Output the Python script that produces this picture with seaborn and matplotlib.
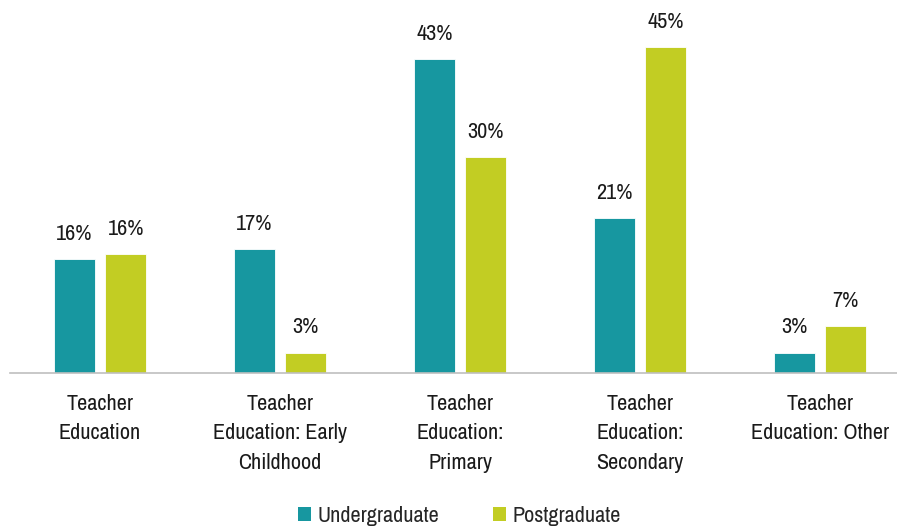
import matplotlib
matplotlib.use("Agg")
import matplotlib.pyplot as plt
from matplotlib import font_manager
from matplotlib.patches import Patch
import seaborn as sns
import pandas as pd

categories = ["Teacher\nEducation", "Teacher\nEducation: Early\nChildhood",
              "Teacher\nEducation:\nPrimary", "Teacher\nEducation:\nSecondary",
              "Teacher\nEducation: Other"]
series_names = ["Undergraduate", "Postgraduate"]
undergraduate = [15.7, 17.1, 43.4, 21.4, 2.8]
postgraduate = [16.4, 2.8, 29.8, 45.0, 6.5]
undergraduate_labels = ["16%", "17%", "43%", "21%", "3%"]
postgraduate_labels = ["16%", "3%", "30%", "45%", "7%"]
colors = ["#1797A0", "#C2CD23"]

sns.set_theme(style="white")
available = {f.name for f in font_manager.fontManager.ttflist}
fam = None
for cand in ["Archivo Narrow", "Liberation Sans Narrow", "Roboto Condensed"]:
    if cand in available:
        fam = cand
        break
if fam is None:
    fam = "Liberation Sans"
plt.rcParams["font.family"] = [fam, "DejaVu Sans"]

df = pd.DataFrame({
    "category": categories * 2,
    "series": [series_names[0]] * 5 + [series_names[1]] * 5,
    "value": undergraduate + postgraduate,
})

fig = plt.figure(figsize=(8.97, 5.30), dpi=100)
ax = fig.add_axes([10 / 897, (530 - 373) / 530, 1 - 10 / 897, 373 / 530])
sns.barplot(data=df, x="category", y="value", hue="series", palette=colors,
            width=0.572, gap=0.2, ax=ax, legend=False, errorbar=None,
            edgecolor="white", linewidth=0.6, saturation=1)

ax.set_xlim(-0.5, (897 - 100) / 180)
ax.set_ylim(0, 373 / 7.24)
ax.set_xlabel("")
ax.set_ylabel("")
ax.set_yticks([])
for s in ["top", "right", "left"]:
    ax.spines[s].set_visible(False)
ax.spines["bottom"].set_color("#BFBFBF")
ax.spines["bottom"].set_linewidth(1.2)
ax.tick_params(axis="x", length=0, pad=15)
for lbl in ax.get_xticklabels():
    lbl.set_fontsize(16)
    lbl.set_color("#1a1a1a")
    lbl.set_linespacing(1.6)
    lbl.set_verticalalignment("top")

labels_all = [undergraduate_labels, postgraduate_labels]
for container, labs in zip(ax.containers, labels_all):
    ax.bar_label(container, labels=labs, padding=11, fontsize=16, color="#1a1a1a")

handles = [Patch(facecolor=c, edgecolor="none") for c in colors]
fig.legend(handles, series_names, loc="lower center", bbox_to_anchor=(0.512, -0.03),
           ncol=2, frameon=False, fontsize=16, handlelength=0.6, handleheight=0.6,
           handletextpad=0.3, columnspacing=2.4)

fig.savefig("out.png", dpi=100)
